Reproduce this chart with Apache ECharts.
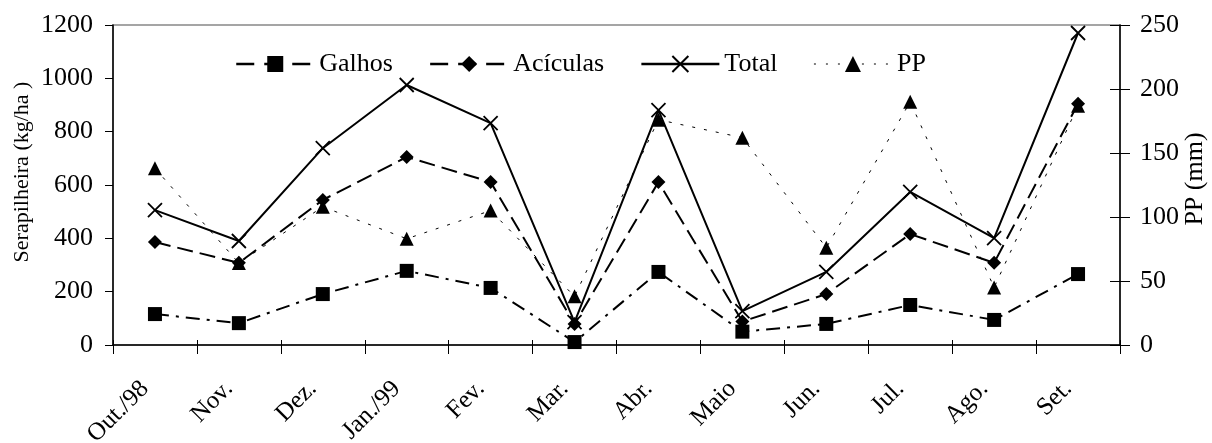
<!DOCTYPE html>
<html><head><meta charset="utf-8">
<script src="https://cdn.jsdelivr.net/npm/echarts@6/dist/echarts.min.js"></script>
<style>html,body{margin:0;padding:0;background:#fff}#c{width:1212px;height:443px}</style>
</head><body><div id="c"></div>
<script>
const categories = ['Out./98','Nov.','Dez.','Jan./99','Fev.','Mar.','Abr.','Maio','Jun.','Jul.','Ago.','Set.'];
const galhos   = [116, 82, 191, 278, 214, 11, 274, 50, 79, 150, 94, 266];
const aciculas = [386, 308, 544, 705, 611, 79, 611, 88, 191, 416, 308, 905];
const total    = [506, 390, 738, 975, 832, 86, 881, 127, 274, 574, 401, 1170];
const pp       = [138, 64, 108, 83, 105, 38, 176, 162, 76, 190, 45, 187];
const leftTicks = [0, 200, 400, 600, 800, 1000, 1200];
const rightTicks = [0, 50, 100, 150, 200, 250];

const F = 'Liberation Serif';
const chart = echarts.init(document.getElementById('c'));
const xPath = 'path://M0,0L10,10M10,0L0,10';
const fmt = v => String(v);
chart.setOption({
  animation: false,
  textStyle: {fontFamily: F, color: '#000'},
  grid: {left: 113, right: 92, top: 25, bottom: 98, show: true, borderColor: '#888', borderWidth: 1.5,
         containLabel: false, outerBoundsMode: 'none'},
  graphic: [
    {type: 'text', x: 22, y: 172, rotation: Math.PI / 2,
     style: {text: 'Serapilheira (kg/ha )', fontSize: 22, fontFamily: F, fill: '#000', align: 'center', verticalAlign: 'middle'}},
    {type: 'text', x: 1195, y: 179, rotation: Math.PI / 2,
     style: {text: 'PP (mm)', fontSize: 26, fontFamily: F, fill: '#000', align: 'center', verticalAlign: 'middle'}}
  ],
  legend: {
    top: 46, left: 230, itemWidth: 78, itemHeight: 20, itemGap: 36,
    textStyle: {fontFamily: F, fontSize: 26, color: '#000'},
    data: [
      {name: 'Galhos', lineStyle: {type: [18, 10], width: 2.5}},
      {name: 'Acículas', lineStyle: {type: [18, 10], width: 2.5}},
      {name: 'Total', lineStyle: {type: 'solid', width: 2.5}},
      {name: 'PP', lineStyle: {type: [2, 10], width: 1}}
    ]
  },
  xAxis: [{
    type: 'category', data: categories, boundaryGap: true,
    axisLine: {lineStyle: {color: '#000', width: 1.5}},
    axisTick: {show: true, length: 9, lineStyle: {color: '#000'}},
    axisLabel: {rotate: 45, fontFamily: F, fontSize: 25, color: '#000', margin: 30, padding: [0, 14, 0, 0]}
  }, {
    type: 'category', data: categories, boundaryGap: true, position: 'bottom',
    axisLine: {show: false},
    axisTick: {show: true, inside: true, length: 5, lineStyle: {color: '#000'}},
    axisLabel: {show: false}
  }],
  yAxis: [{
    type: 'value', min: leftTicks[0], max: leftTicks[leftTicks.length-1], interval: 200,
    axisLine: {show: true, lineStyle: {color: '#000', width: 1.5}},
    axisTick: {show: true, length: 8, lineStyle: {color: '#000'}},
    axisLabel: {fontFamily: F, fontSize: 26, color: '#000', margin: 20, formatter: fmt},
    splitLine: {show: false}
  }, {
    type: 'value', min: rightTicks[0], max: rightTicks[rightTicks.length-1], interval: 50,
    position: 'right',
    axisLine: {show: true, lineStyle: {color: '#000', width: 1.5}},
    axisTick: {show: true, length: 10, lineStyle: {color: '#000'}},
    axisLabel: {fontFamily: F, fontSize: 26, color: '#000', margin: 20, formatter: fmt},
    splitLine: {show: false}
  }, {
    type: 'value', min: rightTicks[0], max: rightTicks[rightTicks.length-1], interval: 50,
    position: 'right',
    axisLine: {show: false},
    axisTick: {show: true, inside: true, length: 10, lineStyle: {color: '#000'}},
    axisLabel: {show: false},
    splitLine: {show: false}
  }],
  series: [{
    name: 'Galhos', type: 'line', data: galhos, yAxisIndex: 0,
    symbol: 'rect', symbolSize: 14,
    itemStyle: {color: '#000'},
    lineStyle: {color: '#000', width: 2, type: [14, 7, 3, 7]}
  }, {
    name: 'Acículas', type: 'line', data: aciculas, yAxisIndex: 0,
    symbol: 'diamond', symbolSize: 14,
    itemStyle: {color: '#000'},
    lineStyle: {color: '#000', width: 2, type: [16, 7]}
  }, {
    name: 'Total', type: 'line', data: total, yAxisIndex: 0,
    symbol: xPath, symbolSize: 14, symbolKeepAspect: true,
    itemStyle: {color: 'rgba(0,0,0,0)', borderColor: '#000', borderWidth: 1.8},
    lineStyle: {color: '#000', width: 2, type: 'solid'}
  }, {
    name: 'PP', type: 'line', data: pp, yAxisIndex: 1,
    symbol: 'triangle', symbolSize: 14,
    itemStyle: {color: '#000'},
    lineStyle: {color: '#000', width: 1, type: [3, 9]}
  }]
});
</script></body></html>
